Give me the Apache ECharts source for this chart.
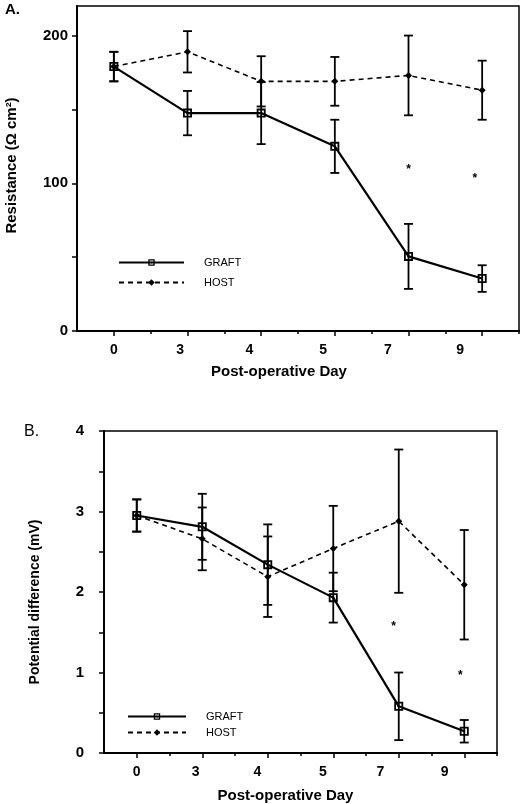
<!DOCTYPE html>
<html><head><meta charset="utf-8">
<script src="https://cdn.jsdelivr.net/npm/echarts@6/dist/echarts.min.js"></script>
<style>html,body{margin:0;padding:0;background:#fff}#c{width:521px;height:804px}</style>
</head><body><div id="c"></div>
<script>
// ---- data ----
const days = ['0', '3', '4', '5', '7', '9'];
const graftR = [179, 147.5, 147.5, 125, 50.5, 35.5];
const graftRErr = [10, 15, 21, 18, 22, 9];
const hostR = [179, 189, 169, 169, 173, 163];
const hostRErr = [10, 14, 17, 16.5, 27, 20];
const sigR = [[4, 111], [4.9, 105]];
const graftPD = [2.95, 2.81, 2.34, 1.93, 0.58, 0.27];
const graftPDErr = [0.2, 0.41, 0.5, 0.31, 0.42, 0.14];
const hostPD = [2.95, 2.66, 2.19, 2.54, 2.88, 2.09];
const hostPDErr = [0.2, 0.39, 0.5, 0.53, 0.89, 0.68];
const sigPD = [[3.92, 1.61], [4.94, 1.0]];
const rTicks = [0, 50, 100, 150, 200];
const rLabels = [0, 100, 200];
const pdTicks = [0, 0.5, 1, 1.5, 2, 2.5, 3, 3.5, 4];
const pdLabels = [0, 1, 2, 3, 4];

// ---- layout / style ----
const FONT = 'Liberation Sans, Arial, sans-serif';
const labelPos = [0, 0.9, 1.84, 2.84, 3.72, 4.7];
const majorX = [0, 1, 2, 3, 4, 5];
const minorX = [0.5, 1.5, 2.5, 3.5, 4.5, 5.5];
const graftSymbol = 'path://M0,0H10V10H0Z M2,2V8H8V2Z M4,4H6V6H4Z';

function dayLabel(v) {
  let best = 0, d = 1e9;
  labelPos.forEach((p, i) => { if (Math.abs(p - v) < d) { d = Math.abs(p - v); best = i; } });
  return days[best];
}
const pts = arr => arr.map((v, i) => [i, v]);
const bars = (arr, err) => arr.map((v, i) => [i, v - err[i], v + err[i]]);

function errSeries(data, xi, yi) {
  return {
    type: 'custom', xAxisIndex: xi, yAxisIndex: yi, silent: true, z: 3,
    encode: { x: 0, y: [1, 2] },
    data: data,
    renderItem: function (params, api) {
      const x = api.value(0);
      const a = api.coord([x, api.value(2)]);
      const b = api.coord([x, api.value(1)]);
      const w = 4.5;
      const st = { stroke: '#000', lineWidth: 1.8 };
      return { type: 'group', children: [
        { type: 'line', shape: { x1: a[0], y1: a[1], x2: b[0], y2: b[1] }, style: st },
        { type: 'line', shape: { x1: a[0] - w, y1: a[1], x2: a[0] + w, y2: a[1] }, style: st },
        { type: 'line', shape: { x1: b[0] - w, y1: b[1], x2: b[0] + w, y2: b[1] }, style: st }
      ]};
    }
  };
}
function sigSeries(data, xi, yi) {
  return {
    type: 'custom', xAxisIndex: xi, yAxisIndex: yi, silent: true,
    data: data,
    renderItem: function (params, api) {
      const p = api.coord([api.value(0), api.value(1)]);
      return { type: 'text', x: p[0], y: p[1] + 3,
        style: { text: '*', fill: '#000', font: 'bold 12px ' + FONT, align: 'center', verticalAlign: 'middle' } };
    }
  };
}
function lineSeries(name, data, xi, yi, solid) {
  return {
    name: name, type: 'line', xAxisIndex: xi, yAxisIndex: yi, data: data, z: 4,
    symbol: solid ? graftSymbol : 'diamond',
    symbolSize: solid ? 9 : 7,
    itemStyle: { color: '#000' },
    lineStyle: { color: '#000', width: solid ? 2.2 : 1.6, type: solid ? 'solid' : [5, 4] },
    animation: false
  };
}
function xAxes(gi, nameGap, namePad) {
  return [{
    gridIndex: gi, type: 'value', min: -0.5, max: 5.5, interval: 0.5, position: 'bottom',
    axisLine: { onZero: false, lineStyle: { color: '#000', width: 2 } },
    axisTick: { customValues: majorX, length: 5, lineStyle: { color: '#000', width: 1.5 } },
    axisLabel: { customValues: labelPos, formatter: dayLabel, margin: 12, color: '#000',
      fontFamily: FONT, fontWeight: 'bold', fontSize: 14 },
    splitLine: { show: false },
    name: 'Post-operative Day', nameLocation: 'middle', nameGap: nameGap,
    nameTextStyle: { color: '#000', fontFamily: FONT, fontWeight: 'bold', fontSize: 15, padding: namePad }
  }, {
    gridIndex: gi, type: 'value', min: -0.5, max: 5.5, interval: 0.5, position: 'bottom',
    axisLine: { show: false, onZero: false },
    axisTick: { customValues: minorX, length: 3, lineStyle: { color: '#000', width: 1.5 } },
    axisLabel: { show: false }, splitLine: { show: false }
  }];
}
function legend(left, top, gap, w) {
  return {
    orient: 'vertical', left: left, top: top, itemGap: gap, itemWidth: w, itemHeight: 8,
    data: ['GRAFT', 'HOST'], selectedMode: false,
    textStyle: { color: '#000', fontFamily: FONT, fontSize: 11, padding: [0, 0, 0, 15] }
  };
}

const option = {
  animation: false,
  backgroundColor: '#fff',
  grid: [
    { left: 77, top: 6, right: 2, bottom: 473, show: true, borderColor: '#000', borderWidth: 1.5, outerBoundsMode: 'none', containLabel: false },
    { left: 104, top: 431, right: 24, bottom: 51, show: true, borderColor: '#000', borderWidth: 1.5, outerBoundsMode: 'none', containLabel: false }
  ],
  legend: [legend(113, 252, 9, 65), legend(122, 706, 5, 58)],
  xAxis: [...xAxes(0, 33, [0, 38, 0, 0]), ...xAxes(1, 35, [0, 30, 0, 0])],
  yAxis: [{
    gridIndex: 0, type: 'value', min: 0, max: 220, position: 'left',
    axisLine: { show: true, onZero: false, lineStyle: { color: '#000', width: 2 } },
    axisTick: { show: true, customValues: rTicks, length: 5, lineStyle: { color: '#000', width: 1.5 } },
    axisLabel: { customValues: rLabels, margin: 9, color: '#000', fontFamily: FONT, fontWeight: 'bold', fontSize: 15 },
    splitLine: { show: false },
    name: 'Resistance (Ω cm²)', nameLocation: 'middle', nameGap: 58,
    nameTextStyle: { color: '#000', fontFamily: FONT, fontWeight: 'bold', fontSize: 15, padding: [0, 0, 0, 6] }
  }, {
    gridIndex: 1, type: 'value', min: 0, max: 4, position: 'left',
    axisLine: { show: true, onZero: false, lineStyle: { color: '#000', width: 2 } },
    axisTick: { show: true, customValues: pdTicks, length: 5, lineStyle: { color: '#000', width: 1.5 } },
    axisLabel: { customValues: pdLabels, margin: 20, color: '#000', fontFamily: FONT, fontWeight: 'bold', fontSize: 15 },
    splitLine: { show: false },
    name: 'Potential difference (mV)', nameLocation: 'middle', nameGap: 62,
    nameTextStyle: { color: '#000', fontFamily: FONT, fontWeight: 'bold', fontSize: 14, padding: [0, 20, 0, 0] }
  }],
  graphic: [
    { type: 'text', left: 5, top: 2, style: { text: 'A.', fill: '#000', font: 'bold 15px ' + FONT } },
    { type: 'text', left: 24, top: 424, style: { text: 'B.', fill: '#000', font: '16px ' + FONT } }
  ],
  series: [
    errSeries(bars(hostR, hostRErr), 0, 0),
    errSeries(bars(graftR, graftRErr), 0, 0),
    lineSeries('HOST', pts(hostR), 0, 0, false),
    lineSeries('GRAFT', pts(graftR), 0, 0, true),
    sigSeries(sigR, 0, 0),
    errSeries(bars(hostPD, hostPDErr), 2, 1),
    errSeries(bars(graftPD, graftPDErr), 2, 1),
    lineSeries('HOST', pts(hostPD), 2, 1, false),
    lineSeries('GRAFT', pts(graftPD), 2, 1, true),
    sigSeries(sigPD, 2, 1)
  ]
};
const chart = echarts.init(document.getElementById('c'), null, { renderer: 'canvas' });
chart.setOption(option);
</script>
</body></html>
